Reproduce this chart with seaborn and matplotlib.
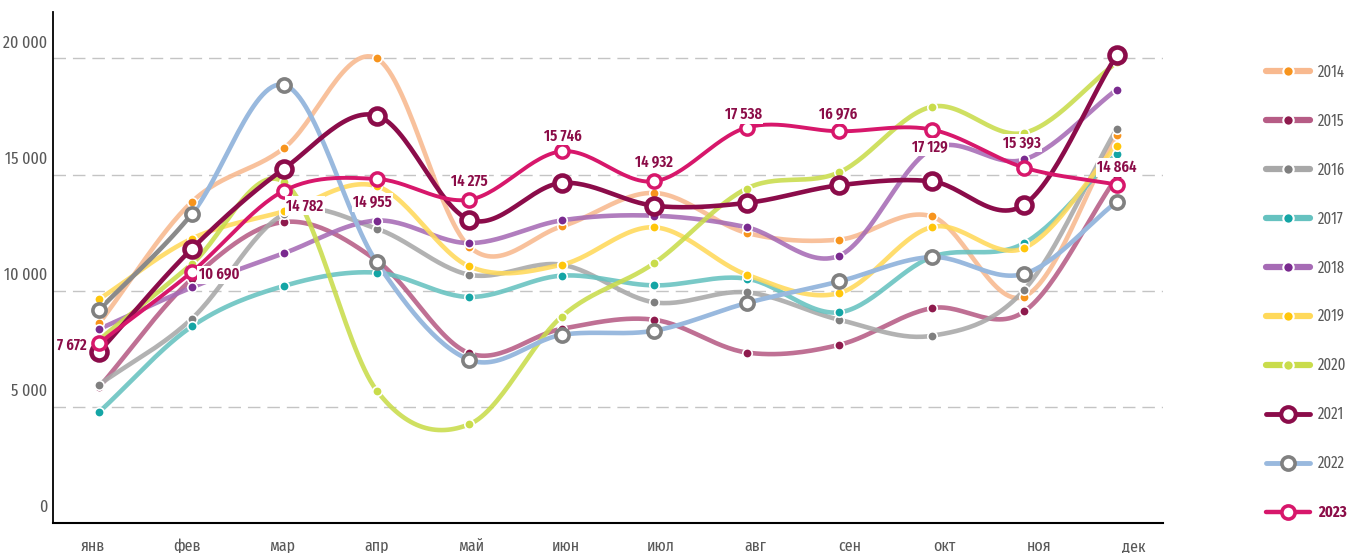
import numpy as np
import matplotlib
matplotlib.use('Agg')
import matplotlib.pyplot as plt
import matplotlib.transforms as mtransforms
from matplotlib.lines import Line2D
import seaborn as sns

#data
months = ['янв', 'фев', 'мар', 'апр', 'май', 'июн', 'июл', 'авг', 'сен', 'окт', 'ноя', 'дек']
years = ['2014', '2015', '2016', '2017', '2018', '2019', '2020', '2021', '2022', '2023']
y2014 = [8600, 13820, 16150, 20000, 11900, 12770, 14210, 12490, 12200, 13200, 9750, 16700]
y2015 = [5850, 10500, 12960, 11300, 7310, 8360, 8750, 7340, 7670, 9250, 9110, 14900]
y2016 = [5960, 8790, 13300, 12670, 10690, 11120, 9500, 9930, 8750, 8060, 10040, 16980]
y2017 = [4780, 8460, 10210, 10780, 9730, 10650, 10230, 10520, 9070, 11450, 12050, 15890]
y2018 = [8350, 10140, 11620, 13020, 12050, 13030, 13230, 12730, 11510, 16100, 15650, 18660]
y2019 = [9640, 12240, 13420, 14500, 11050, 11120, 12730, 10690, 9900, 12740, 11840, 16250]
y2020 = [7900, 11150, 14670, 5700, 4250, 8890, 11190, 14400, 15100, 17920, 16800, 19830]
y2021 = [7380, 11800, 15260, 17540, 13060, 14640, 13660, 13780, 14540, 14710, 13710, 20150]
y2022 = [9180, 13300, 18860, 11220, 7030, 8100, 8280, 9470, 10400, 11450, 10730, 13830]
y2023 = [7745, 10805, 14310, 14813, 13921, 16003, 14710, 17024, 16865, 16938, 15300, 14568]
labels2023 = ['7 672', '10 690', '14 782', '14 955', '14 275', '15 746', '14 932',
              '17 538', '16 976', '17 129', '15 393', '14 864']
yticks = [0, 5000, 10000, 15000, 20000]
ytick_labels = ['0', '5 000', '10 000', '15 000', '20 000']

#styles
light = {'2014': ('#f8b98f', '#f7941d'), '2015': ('#b65c85', '#8e1a4d'),
         '2016': ('#a8a8a8', '#7f7f7f'), '2017': ('#66c2c0', '#14a5a5'),
         '2018': ('#a66bb5', '#7a2a8f'), '2019': ('#ffd95a', '#ffc60b'),
         '2020': ('#c9dc4b', '#c9dc4b')}
light_vals = [y2014, y2015, y2016, y2017, y2018, y2019, y2020]
maroon = '#8b0c4a'
pink = '#d7176b'
blue = '#99b9de'
ring_grey = '#808080'
label_col = '#8b0d48'
grey_txt = '#595959'
#label offsets (points) and alignment for 2023
lab_off = [(-9.4, -1.4, 'right'), (5, -2, 'left'), (1.4, -10.8, 'left'), (-2.9, -16.8, 'center'),
           (0, 13.7, 'center'), (0.7, 11.3, 'center'), (0, 14, 'center'), (-2.6, 9.6, 'center'),
           (-0.7, 12, 'center'), (-1.4, -12.7, 'center'), (-1.7, 17.8, 'center'), (0, 12.5, 'center')]


def spline(vals, n=30):
    #catmull-rom style curve through the points, for drawing only
    v = np.asarray(vals, float)
    ext = np.r_[2 * v[0] - v[1], v, 2 * v[-1] - v[-2]]
    m = (ext[2:] - ext[:-2]) / 2
    t = np.linspace(0, 1, n, endpoint=False)
    h00 = 2 * t**3 - 3 * t**2 + 1
    h10 = t**3 - 2 * t**2 + t
    h01 = -2 * t**3 + 3 * t**2
    h11 = t**3 - t**2
    xs, ys = [], []
    for i in range(len(v) - 1):
        xs.append(i + t)
        ys.append(h00 * v[i] + h10 * m[i] + h01 * v[i + 1] + h11 * m[i + 1])
    xs.append([len(v) - 1])
    ys.append([v[-1]])
    return np.concatenate(xs), np.concatenate(ys)


sns.set_style('white')
plt.rcParams['font.family'] = ['Fira Sans Extra Condensed', 'DejaVu Sans']

fig = plt.figure(figsize=(13.47, 5.53), dpi=100)
ax = fig.add_axes([53 / 1347, 30 / 553, 1110 / 1347, 511 / 553])
x = np.arange(len(months))

#light lines
for yr, vals in zip(years[:7], light_vals):
    sx, sy = spline(vals)
    sns.lineplot(x=sx, y=sy, ax=ax, color=light[yr][0], lw=3.3, alpha=0.88,
                 solid_capstyle='round', zorder=2)
sx, sy = spline(y2022)
sns.lineplot(x=sx[sx >= 1], y=sy[sx >= 1], ax=ax, color=blue, lw=3.3, solid_capstyle='round', zorder=2.5)
#first 2022 segment is grey in the original
sns.lineplot(x=sx[sx <= 1], y=sy[sx <= 1], ax=ax, color='#8a8a8a', lw=3.3, solid_capstyle='round', zorder=2.5)
for yr, vals in zip(years[:7], light_vals):
    ax.plot(x, vals, 'o', ms=6.8, mfc=light[yr][1], mec='white', mew=1.2, zorder=3)

sx, sy = spline(y2021)
sns.lineplot(x=sx, y=sy, ax=ax, color=maroon, lw=3.3, solid_capstyle='round', zorder=4)
sx, sy = spline(y2023)
sns.lineplot(x=sx, y=sy, ax=ax, color=pink, lw=2.8, solid_capstyle='round', zorder=5)

ax.plot(x, y2022, 'o', ms=9.5, mfc='white', mec=ring_grey, mew=2.6, zorder=6)
ax.plot(x, y2021, 'o', ms=11.5, mfc='white', mec=maroon, mew=3.3, zorder=6)
ax.plot(x, y2023, 'o', ms=9.5, mfc='white', mec=pink, mew=2.5, zorder=7)

for i, (txt, (dx, dy, ha)) in enumerate(zip(labels2023, lab_off)):
    ax.annotate(txt, (i, y2023[i]), xytext=(dx, dy), textcoords='offset points',
                ha=ha, va='center', fontsize=11.5, fontweight='semibold', color=label_col,
                bbox=dict(boxstyle='square,pad=0.08', fc='white', ec='none'), zorder=8)

#axes
ax.set_xlim(-0.5, 11.5)
ax.set_ylim(0, 22000)
ax.set_yticks(yticks)
ax.set_yticklabels(ytick_labels)
ax.yaxis.grid(True, linestyle=(0, (9, 5)), color='#c4c4c4', lw=1)
ax.xaxis.grid(False)
ax.set_axisbelow(True)
for s in ['top', 'right']:
    ax.spines[s].set_visible(False)
ax.spines['left'].set_color('black')
ax.spines['left'].set_linewidth(1.3)
ax.spines['bottom'].set_color('black')
ax.spines['bottom'].set_linewidth(1.5)

ax.set_xticks(np.arange(12) * 1.023 - 0.07)
ax.set_xticklabels(months)
ax.set_xticks(np.arange(13) - 0.5, minor=True)
ax.tick_params(axis='x', which='major', length=0, pad=11, labelsize=12.5, labelcolor=grey_txt)
ax.tick_params(axis='x', which='minor', length=6, width=1, color='#999999', direction='out')
ax.tick_params(axis='y', length=0, pad=4, labelsize=12.5, labelcolor=grey_txt)
off = mtransforms.ScaledTranslation(0, 0.17, fig.dpi_scale_trans)
for lab in ax.get_yticklabels():
    lab.set_transform(lab.get_transform() + off)

#legend
handles = []
for yr in years[:7]:
    handles.append(Line2D([0], [0], color=light[yr][0], lw=4.5, solid_capstyle='round', marker='o',
                          ms=7.5, mfc=light[yr][1], mec='white', mew=1.5))
handles.append(Line2D([0], [0], color=maroon, lw=3.5, marker='o', ms=10.5, mfc='white', mec=maroon, mew=3))
handles.append(Line2D([0], [0], color=blue, lw=3.5, marker='o', ms=9.5, mfc='white', mec=ring_grey, mew=2.6))
handles.append(Line2D([0], [0], color=pink, lw=3.2, marker='o', ms=9.5, mfc='white', mec=pink, mew=2.6))
leg = fig.legend(handles, years, loc='upper left', bbox_to_anchor=(1266 / 1347, 1 - 64 / 553),
                 frameon=False, fontsize=11.5, handlelength=2.75, handletextpad=0.5,
                 labelspacing=2.06, borderpad=0, borderaxespad=0)
for t in leg.get_texts():
    t.set_color(grey_txt)
leg.get_texts()[-1].set_fontweight('bold')
leg.get_texts()[-1].set_color(label_col)

fig.savefig('out.png', dpi=100)
